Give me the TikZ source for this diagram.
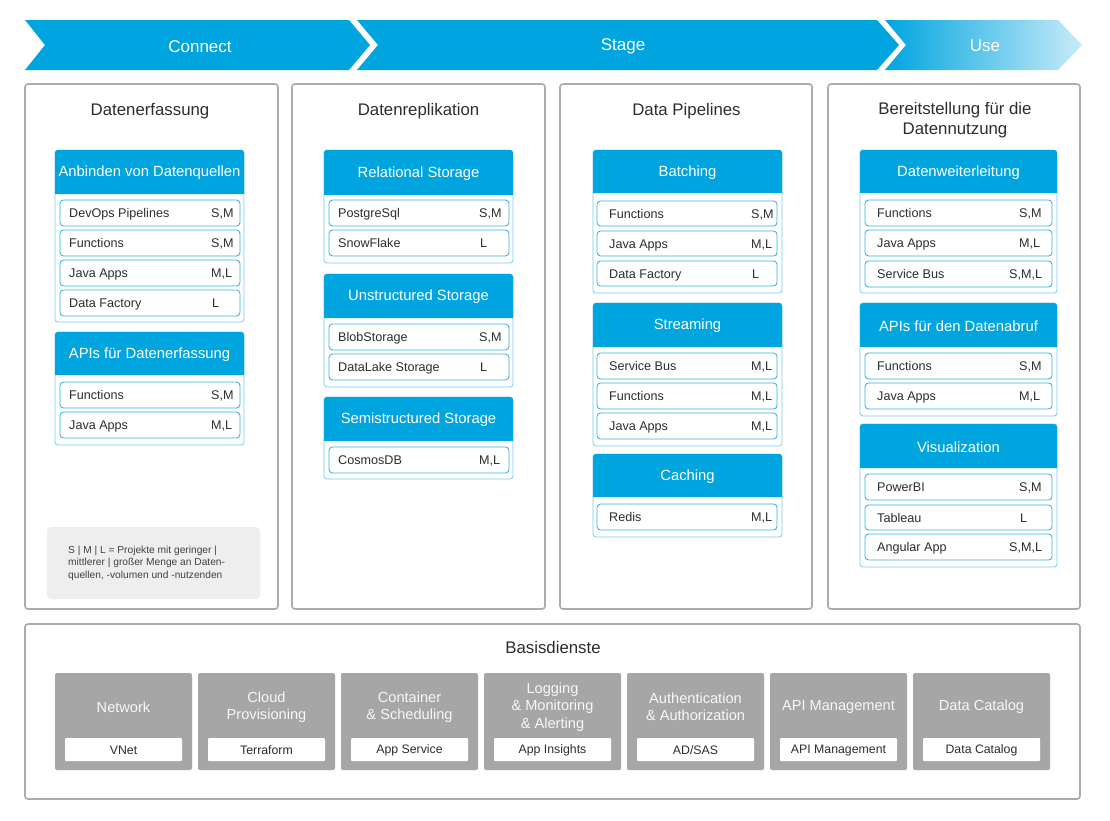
\documentclass[tikz,border=0pt]{standalone}
\usepackage{fontspec}
\setmainfont{Liberation Sans}
\usetikzlibrary{fit}
\definecolor{cblue}{RGB}{0,165,224}
\definecolor{cline}{RGB}{120,204,240}
\definecolor{iline}{RGB}{55,176,228}
\definecolor{pgray}{RGB}{172,172,172}
\definecolor{sgray}{RGB}{166,166,166}
\definecolor{lgray}{RGB}{238,238,238}
\definecolor{tdark}{RGB}{45,45,45}
\tikzset{
  panel/.style={draw=pgray, line width=1.6pt, rounded corners=3pt, inner sep=0pt},
  cardst/.style={draw=cline, line width=0.8pt, rounded corners=3pt, fill=white, inner sep=0pt},
  itemst/.style={draw=iline, line width=0.85pt, rounded corners=3.5pt, fill=white, inner sep=0pt},
  itemtxt/.style={font=\fontsize{12.6}{14}\selectfont, text=tdark, inner sep=0pt},
  headtxt/.style={font=\fontsize{14.8}{17}\selectfont, text=white, inner sep=0pt},
  ptitle/.style={font=\fontsize{16.8}{20}\selectfont, text=tdark, align=center, inner sep=0pt},
  bantxt/.style={font=\fontsize{17}{20}\selectfont, text=white, inner sep=0pt},
  svcbox/.style={fill=sgray, rounded corners=2pt, inner sep=0pt},
  svctxt/.style={font=\fontsize{14.6}{17.3}\selectfont, text=white!94!gray, align=center, inner sep=0pt},
  svclab/.style={fill=white, rounded corners=1pt, inner sep=0pt},
  svclabtxt/.style={font=\fontsize{12.3}{14}\selectfont, text=tdark, inner sep=0pt},
  legbox/.style={fill=lgray, rounded corners=4pt, inner sep=0pt},
  legtxt/.style={font=\fontsize{10.2}{12.6}\selectfont, text=tdark!90, align=left, inner sep=0pt},
}
% card: name, x1, x2, top, header bottom, bottom, title
\newcommand\mkcard[7]{%
  \node[cardst, fit={(#2,#4) (#3,#6)}] (#1) {};
  \fill[cblue] (#2,#5) {[rounded corners=3pt] -- (#2,#4) -- (#3,#4)} -- (#3,#5) -- cycle;
  \node[headtxt] (#1-h) at ({(#2+#3)/2},{(#4+#5)/2+0.8}) {#7};
}
% item: name, x1, x2, top, bottom, text x, text, label x, label
\newcommand\mkitem[9]{%
  \node[itemst, fit={(#2,#4) (#3,#5)}] (#1) {};
  \node[itemtxt, anchor=base west] (#1-t) at (#6,{(#4+#5)/2+4.5}) {#7};
  \node[itemtxt, anchor=base west] (#1-l) at (#8,{(#4+#5)/2+4.5}) {#9};
}
% service: name, index, title, label
\newcommand\mksvc[4]{%
  \pgfmathsetmacro\sx{55+143*#2}
  \node[svcbox, fit={(\sx,673) ({\sx+137},770)}] (#1) {};
  \node[svctxt] (#1-t) at ({\sx+68.5},707) {#3};
  \node[svclab, fit={({\sx+10},738) ({\sx+127},761)}] (#1-b) {};
  \node[svclabtxt] (#1-l) at ([yshift=-1pt]#1-b.center) {#4};
}
\begin{document}
\begin{tikzpicture}[x=1pt,y=-1pt]
\useasboundingbox[fill=white] (0,0) rectangle (1110,820);

% ---- banner ----
\fill[cblue] (25,20) -- (349,20) -- (370,45) -- (349,70) -- (25,70) -- (45,45) -- cycle;
\fill[cblue] (357,20) -- (877,20) -- (899,45) -- (877,70) -- (357,70) -- (378,45) -- cycle;
\shade[left color=cblue, right color=cblue!22] (885,20) -- (1058,20) -- (1082,45) -- (1058,70) -- (885,70) -- (906,45) -- cycle;
\node[bantxt] (connect) at (200,46.5) {Connect};
\node[bantxt] (stage) at (623,46) {Stage};
\node[bantxt] (use) at (985,46) {Use};

% ---- panels ----
\node[panel, fit={(25,84) (278,609)}] (p1) {};
\node[panel, fit={(292,84) (545,609)}] (p2) {};
\node[panel, fit={(560,84) (812,609)}] (p3) {};
\node[panel, fit={(828,84) (1080,609)}] (p4) {};
\node[ptitle] (p1-t) at (150,111.5) {Datenerfassung};
\node[ptitle] (p2-t) at (418.5,111.5) {Datenreplikation};
\node[ptitle] (p3-t) at (686.5,111.5) {Data Pipelines};
\node[ptitle] (p4-t) at (955,120.5) {Bereitstellung für die\\Datennutzung};

% ---- panel 1 ----
\mkcard{a1}{55}{244}{150}{194}{322}{Anbinden von Datenquellen}
\mkitem{a1i1}{60}{240}{200}{226}{69}{DevOps Pipelines}{211}{S,M}
\mkitem{a1i2}{60}{240}{230}{256}{69}{Functions}{211}{S,M}
\mkitem{a1i3}{60}{240}{260}{286}{69}{Java Apps}{211}{M,L}
\mkitem{a1i4}{60}{240}{290}{316}{69}{Data Factory}{212}{L}
\mkcard{a2}{55}{244}{332}{375}{445}{APIs für Datenerfassung}
\mkitem{a2i1}{60}{240}{382}{408}{69}{Functions}{211}{S,M}
\mkitem{a2i2}{60}{240}{412}{438}{69}{Java Apps}{211}{M,L}
\node[legbox, fit={(47,527) (260,599)}] (leg) {};
\node[legtxt, anchor=north west] (leg-t) at (68,545.5) {S | M | L = Projekte mit geringer |\\mittlerer | großer Menge an Daten-\\quellen, -volumen und -nutzenden};

% ---- panel 2 ----
\mkcard{b1}{324}{513}{150}{195}{263}{Relational Storage}
\mkitem{b1i1}{329}{509}{200}{226}{338}{PostgreSql}{479}{S,M}
\mkitem{b1i2}{329}{509}{230}{256}{338}{SnowFlake}{480}{L}
\mkcard{b2}{324}{513}{274}{318}{387}{Unstructured Storage}
\mkitem{b2i1}{329}{509}{324}{350}{338}{BlobStorage}{479}{S,M}
\mkitem{b2i2}{329}{509}{354}{380}{338}{DataLake Storage}{480}{L}
\mkcard{b3}{324}{513}{397}{441}{479}{Semistructured Storage}
\mkitem{b3i1}{329}{509}{447}{473}{338}{CosmosDB}{479}{M,L}

% ---- panel 3 ----
\mkcard{c1}{593}{782}{150}{193}{293}{Batching}
\mkitem{c1i1}{597}{777}{201}{226}{609}{Functions}{751}{S,M}
\mkitem{c1i2}{597}{777}{231}{256}{609}{Java Apps}{751}{M,L}
\mkitem{c1i3}{597}{777}{261}{286}{609}{Data Factory}{752}{L}
\mkcard{c2}{593}{782}{303}{347}{446}{Streaming}
\mkitem{c2i1}{597}{777}{353}{379}{609}{Service Bus}{751}{M,L}
\mkitem{c2i2}{597}{777}{383}{409}{609}{Functions}{751}{M,L}
\mkitem{c2i3}{597}{777}{413}{439}{609}{Java Apps}{751}{M,L}
\mkcard{c3}{593}{782}{454}{497}{537}{Caching}
\mkitem{c3i1}{597}{777}{504}{530}{609}{Redis}{751}{M,L}

% ---- panel 4 ----
\mkcard{d1}{860}{1057}{150}{193}{293}{Datenweiterleitung}
\mkitem{d1i1}{865}{1052}{200}{226}{877}{Functions}{1019}{S,M}
\mkitem{d1i2}{865}{1052}{230}{256}{877}{Java Apps}{1019}{M,L}
\mkitem{d1i3}{865}{1052}{261}{287}{877}{Service Bus}{1009}{S,M,L}
\mkcard{d2}{860}{1057}{303}{347}{416}{APIs für den Datenabruf}
\mkitem{d2i1}{865}{1052}{353}{379}{877}{Functions}{1019}{S,M}
\mkitem{d2i2}{865}{1052}{383}{409}{877}{Java Apps}{1019}{M,L}
\mkcard{d3}{860}{1057}{424}{468}{567}{Visualization}
\mkitem{d3i1}{865}{1052}{474}{500}{877}{PowerBI}{1019}{S,M}
\mkitem{d3i2}{865}{1052}{505}{530}{877}{Tableau}{1020}{L}
\mkitem{d3i3}{865}{1052}{534}{560}{877}{Angular App}{1009}{S,M,L}

% ---- Basisdienste ----
\node[panel, fit={(25,624) (1080,799)}] (base) {};
\node[ptitle] (base-t) at (553,647.5) {Basisdienste};
\mksvc{s1}{0}{Network}{VNet}
\mksvc{s2}{1}{Cloud\\Provisioning}{Terraform}
\mksvc{s3}{2}{Container\\\& Scheduling}{App Service}
\mksvc{s4}{3}{Logging\\\& Monitoring\\\& Alerting}{App Insights}
\mksvc{s5}{4}{Authentication\\\& Authorization}{AD/SAS}
\mksvc{s6}{5}{API Management}{API Management}
\mksvc{s7}{6}{Data Catalog}{Data Catalog}
\end{tikzpicture}
\end{document}
